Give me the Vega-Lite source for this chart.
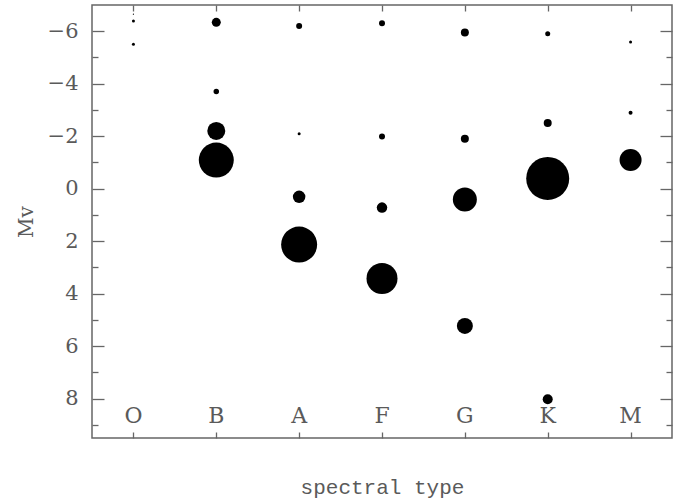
{
  "$schema": "https://vega.github.io/schema/vega-lite/v6.json",
  "width": 580,
  "height": 433,
  "autosize": {"type": "none"},
  "padding": {"left": 92, "top": 5, "right": 16, "bottom": 64},
  "background": "white",
  "config": {
    "view": {"stroke": "#666666", "strokeWidth": 1.5},
    "axis": {"domain": false, "grid": false, "tickColor": "#666666", "tickWidth": 1.3, "labelColor": "#5a5a5a", "titleColor": "#5a5a5a", "labelFont": "DejaVu Serif", "titleFont": "DejaVu Serif", "labelFontWeight": "normal", "titleFontWeight": "normal"}
  },
  "datasets": {
    "stars": [
      {"type": "O", "Mv": -6.65, "n": 1.5},
      {"type": "O", "Mv": -6.39, "n": 9},
      {"type": "O", "Mv": -5.5, "n": 9},
      {"type": "B", "Mv": -6.34, "n": 81},
      {"type": "B", "Mv": -3.7, "n": 30},
      {"type": "B", "Mv": -2.2, "n": 324},
      {"type": "B", "Mv": -1.09, "n": 1225},
      {"type": "A", "Mv": -6.2, "n": 36},
      {"type": "A", "Mv": -2.09, "n": 9},
      {"type": "A", "Mv": 0.31, "n": 156},
      {"type": "A", "Mv": 2.13, "n": 1296},
      {"type": "F", "Mv": -6.3, "n": 36},
      {"type": "F", "Mv": -1.99, "n": 36},
      {"type": "F", "Mv": 0.72, "n": 110},
      {"type": "F", "Mv": 3.42, "n": 961},
      {"type": "G", "Mv": -5.95, "n": 64},
      {"type": "G", "Mv": -1.9, "n": 64},
      {"type": "G", "Mv": 0.41, "n": 576},
      {"type": "G", "Mv": 5.23, "n": 256},
      {"type": "K", "Mv": -5.9, "n": 25},
      {"type": "K", "Mv": -2.5, "n": 64},
      {"type": "K", "Mv": -0.39, "n": 1849},
      {"type": "K", "Mv": 8.02, "n": 100},
      {"type": "M", "Mv": -5.59, "n": 9},
      {"type": "M", "Mv": -2.89, "n": 16},
      {"type": "M", "Mv": -1.09, "n": 484}
    ],
    "types": [
      {"type": "O"}, {"type": "B"}, {"type": "A"}, {"type": "F"}, {"type": "G"}, {"type": "K"}, {"type": "M"}
    ]
  },
  "resolve": {"axis": {"x": "independent", "y": "independent"}},
  "layer": [
    {
      "data": {"name": "stars"},
      "mark": {"type": "circle", "color": "black", "opacity": 1},
      "encoding": {
        "x": {"field": "type", "type": "nominal", "sort": ["O", "B", "A", "F", "G", "K", "M"],
              "scale": {"domain": ["O", "B", "A", "F", "G", "K", "M"], "paddingInner": 0, "paddingOuter": 0},
              "axis": {"orient": "bottom", "labels": false, "tickSize": -6, "bandPosition": 0, "title": "spectral type", "titleFont": "Liberation Mono", "titleFontSize": 21, "titlePadding": 38}},
        "y": {"field": "Mv", "type": "quantitative",
              "scale": {"domain": [-7, 9.5], "reverse": true, "nice": false, "zero": false},
              "axis": {"orient": "left", "values": [-6, -4, -2, 0, 2, 4, 6, 8], "tickSize": -12, "labelPadding": 26, "labelFontSize": 21, "title": "Mv", "titleFontSize": 20, "titlePadding": 11}},
        "size": {"field": "n", "type": "quantitative", "scale": {"type": "linear", "domain": [0, 1849], "range": [0, 1849], "zero": true}, "legend": null}
      }
    },
    {
      "data": {"name": "types"},
      "mark": {"type": "text", "font": "DejaVu Serif", "fontSize": 22, "color": "#5a5a5a", "baseline": "middle"},
      "encoding": {
        "x": {"field": "type", "type": "nominal", "sort": ["O", "B", "A", "F", "G", "K", "M"],
              "axis": {"orient": "top", "labels": false, "tickSize": -6, "bandPosition": 0, "title": null}},
        "y": {"datum": 8.65, "type": "quantitative",
              "axis": {"orient": "left", "values": [-5, -3, -1, 1, 3, 5, 7, 9], "tickSize": -6, "labels": false, "title": null}},
        "text": {"field": "type"}
      }
    },
    {
      "data": {"name": "types"},
      "mark": {"type": "text", "opacity": 0, "text": ""},
      "encoding": {
        "y": {"datum": 0, "type": "quantitative",
              "axis": {"orient": "right", "values": [-6, -4, -2, 0, 2, 4, 6, 8], "tickSize": -12, "labels": false, "title": null}}
      }
    },
    {
      "data": {"name": "types"},
      "mark": {"type": "text", "opacity": 0, "text": ""},
      "encoding": {
        "y": {"datum": 0, "type": "quantitative",
              "axis": {"orient": "right", "values": [-5, -3, -1, 1, 3, 5, 7, 9], "tickSize": -6, "labels": false, "title": null}}
      }
    }
  ]
}
